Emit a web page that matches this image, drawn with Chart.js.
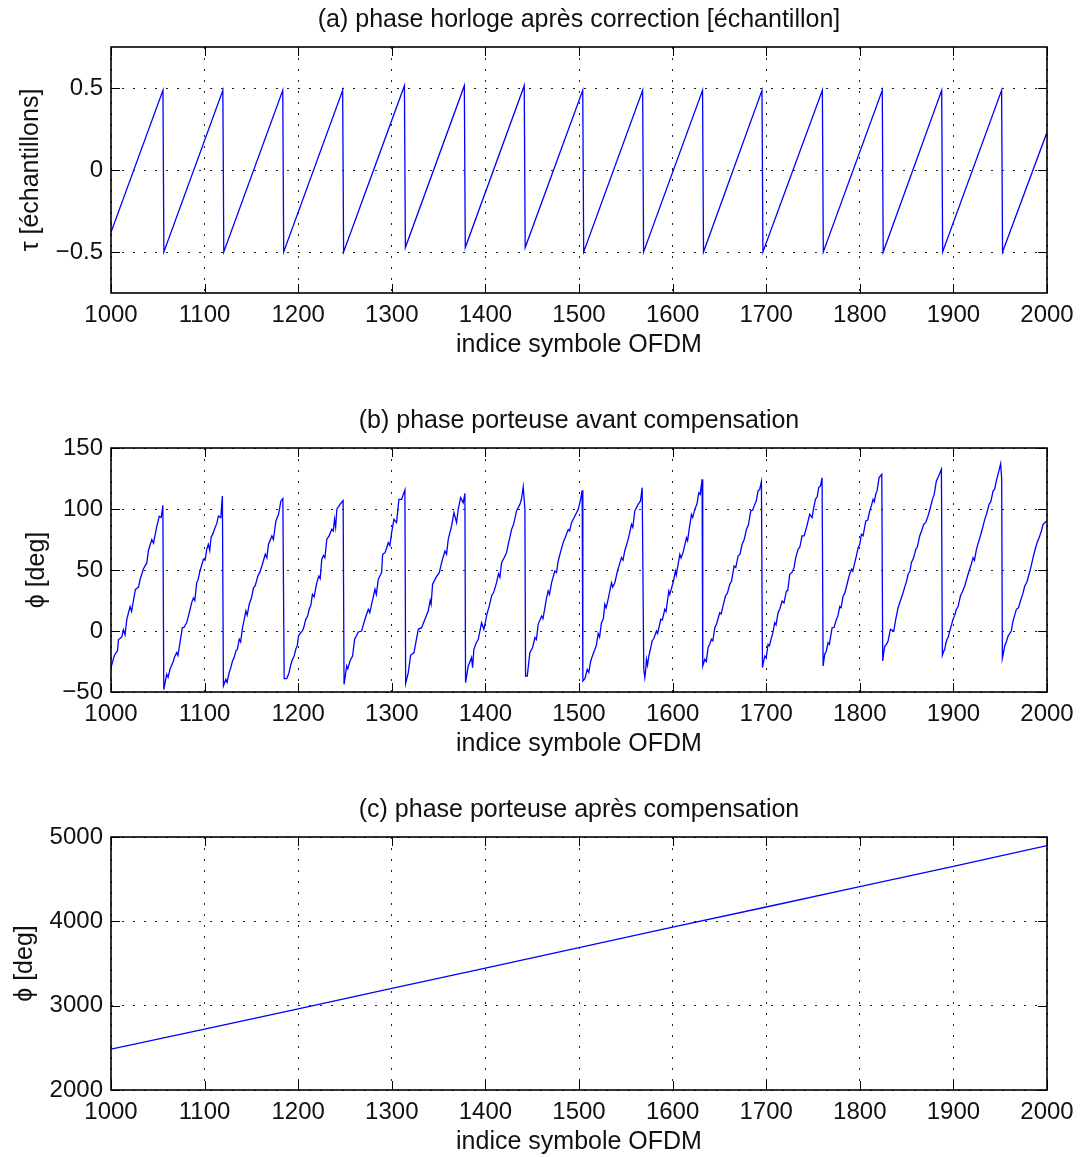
<!DOCTYPE html>
<html lang="fr">
<head>
<meta charset="UTF-8">
<title>Phase horloge et phase porteuse</title>
<script src="https://cdn.jsdelivr.net/npm/chart.js"></script>
<style>
  html, body { margin: 0; padding: 0; background: #fff; overflow: hidden; }
  canvas { position: absolute; left: 0; }
  #chartA { top: 0; }
  #chartB { top: 401px; }
  #chartC { top: 790px; }
</style>
</head>
<body>

<canvas id="chartA" width="1082" height="373"></canvas>
<canvas id="chartB" width="1082" height="371"></canvas>
<canvas id="chartC" width="1082" height="380"></canvas>

<script>
// ---- données ----
const xTicks = [1000, 1100, 1200, 1300, 1400, 1500, 1600, 1700, 1800, 1900, 2000];
const tauTicks = [-0.5, 0, 0.5];
const phiAvantTicks = [-50, 0, 50, 100, 150];
const phiApresTicks = [2000, 3000, 4000, 5000];

// (a) phase horloge [échantillon] : sommets de la dent de scie
const tauPoints = [
  [1000, -0.38], [1055.5, 0.486], [1056.5, -0.5],
  [1119.5, 0.486], [1120.5, -0.5],
  [1183.5, 0.486], [1184.5, -0.5],
  [1247.5, 0.486], [1248.5, -0.5],
  [1313.5, 0.514], [1314.5, -0.473],
  [1377.5, 0.514], [1378.5, -0.473],
  [1441.5, 0.514], [1442.5, -0.473],
  [1504, 0.486], [1505, -0.5],
  [1568, 0.486], [1569, -0.5],
  [1632, 0.486], [1633, -0.5],
  [1695.5, 0.486], [1696.5, -0.5],
  [1760, 0.486], [1761, -0.5],
  [1824, 0.486], [1825, -0.5],
  [1887.5, 0.486], [1888.5, -0.5],
  [1951.5, 0.486], [1952.5, -0.5],
  [2000, 0.23]
];

// (b) phase porteuse avant compensation [deg]
const phiAvantPoints = [
  [1000,-30],[1003.6,-20],[1007,-16],[1008,-7],[1011.5,-5],[1013.3,1],[1015,-3],[1017,10],[1020.4,20],[1022,16],[1026,34],[1029.4,36],[1031,42],[1034.7,51],[1038.3,56],[1040,66],[1043.6,75],[1045.4,72],[1049,86],[1051.5,94],[1053.6,93],[1055.4,103],
  [1056.4,-48],[1059.5,-35.5],[1061,-38],[1063,-31.4],[1066.6,-24.8],[1068,-21],[1070.2,-17.7],[1071.5,-20],[1073.7,-9.5],[1076.2,2.8],[1078,3],[1080.9,6.9],[1083,13],[1086.2,23.3],[1088,27],[1089.5,25],[1091.6,39.7],[1093,42],[1095.1,49.2],[1098.7,58.8],[1100.5,58],[1102.3,67],[1104,71],[1105.5,66],[1106.9,76.6],[1109,80],[1111.2,84.8],[1113,88],[1114.8,94.3],[1117.3,93],[1119,110.7],
  [1120.1,-45],[1122.7,-39.6],[1124,-42],[1126.3,-34],[1128,-30],[1129.8,-24.6],[1131.5,-22],[1133.4,-16.4],[1135,-15],[1137,-6.8],[1138.5,-9],[1140.5,2.8],[1142,8],[1144.1,16.4],[1145.5,13],[1147.7,21.9],[1150,27],[1152.3,35.6],[1154,37],[1156.9,45.1],[1159,48],[1161.2,53.3],[1163,58],[1164.8,62.9],[1166.5,60],[1168.3,71.1],[1171.9,77.9],[1173.5,75],[1176.2,90.2],[1179,95.7],[1181.5,106.6],[1183.6,108.5],
  [1185,-39],[1187.8,-39],[1190.3,-34],[1192,-28],[1193.9,-23.2],[1195.5,-21],[1197.4,-15],[1199,-12],[1200.3,-4.1],[1202,-2],[1204.5,0],[1206,3],[1208.1,9.6],[1210,12],[1211.7,17.8],[1213.5,21],[1215.2,30.1],[1217,28],[1219.9,39.7],[1222,45],[1223.5,43],[1225.2,58.8],[1227,62],[1228.5,60],[1230.6,75.2],[1233,78],[1235.9,83.4],[1237.5,82],[1238.8,91.6],[1240,85],[1241.3,99.8],[1244.8,103.9],[1248,106.9],
  [1249,-43.7],[1251.8,-28.7],[1253,-31],[1255.3,-24.6],[1258.1,-20.5],[1260.3,-6.8],[1264.2,-0.8],[1267.8,0],[1269.5,5],[1271.3,9.6],[1274.9,17.8],[1276.5,15],[1278.4,21.9],[1282,34.2],[1283.5,30],[1285.6,42.4],[1289.1,47.8],[1290.2,62.8],[1292.7,64.2],[1294.5,68],[1296.2,72.4],[1298,70],[1299.8,80.6],[1302.3,91.5],[1305.1,88.8],[1307.6,107.9],[1310.5,107.9],[1312.3,112],[1314,115.6],
  [1314.8,-42.9],[1317.6,-34.1],[1320.1,-19.9],[1323.7,-17.7],[1326,-8],[1328.3,1.4],[1331.8,2.7],[1335.4,9.6],[1338.9,16.4],[1341,25],[1342,22],[1343.6,38.3],[1347.1,43.7],[1350.7,47.8],[1353.2,56],[1356.8,65.6],[1358.5,63],[1360.3,75.1],[1363.9,86.1],[1366.4,97],[1369.2,88.8],[1371,100],[1373.5,109.3],[1376.3,105.2],[1378.1,112.8],
  [1378.8,-42.3],[1381.7,-28.7],[1385.2,-21.8],[1386.3,-30],[1387.7,-15],[1390,-10],[1392.4,-6.8],[1395.9,6.8],[1398.4,1.4],[1402,15],[1404,20],[1406.6,28.7],[1409,32],[1411.9,39.6],[1414,47],[1415.5,44],[1417.3,56],[1420,60],[1422.6,64.2],[1425,73],[1428,83.3],[1430,87],[1433.3,98.4],[1436.9,103.8],[1438.5,108],[1440.4,118.3],[1442.2,100],
  [1442.9,-36.9],[1444.7,-36.9],[1447.5,-17.7],[1450.4,-13.6],[1452.9,-5.4],[1454.5,-7],[1456.4,5.5],[1460,12.3],[1461.5,10],[1463.6,19.1],[1465,26],[1467.1,32.8],[1468.5,30],[1470.7,39.6],[1474.2,49.2],[1476,48],[1477.8,57.4],[1480,64],[1483.1,72.4],[1485,76],[1488.5,83.3],[1490,82],[1492,88.8],[1495.6,94.3],[1499.2,99.7],[1501.7,107.9],[1503.4,115.3],
  [1504.1,-41],[1506.3,-39],[1508.8,-31.4],[1510.5,-34],[1512.3,-25.4],[1514.5,-20],[1517,-15],[1518.5,-12],[1520.5,-2],[1522,-5],[1524,6.8],[1526,10],[1527.6,21.9],[1529,19],[1531.1,26],[1534.7,39.6],[1536,36],[1538.3,39.6],[1541.1,49.2],[1543,54],[1545.4,60.1],[1547,58],[1548.9,65.6],[1552.5,75.1],[1554,80],[1556.1,87.4],[1557.5,85],[1559.6,98.4],[1563.2,103.8],[1565.7,106.6],[1567.5,117.5],
  [1569.2,-31.4],[1570.3,-38.2],[1571,-34],[1572.1,-23.2],[1573.2,-28],[1574.6,-20.5],[1576,-16],[1578.1,-8.2],[1580,-6],[1582.8,0],[1584,-2],[1587.4,9.6],[1589,9],[1591.7,17.8],[1593,16],[1595.9,32.8],[1597,30],[1599.5,36.9],[1601,41],[1603,49.2],[1604,46],[1607.7,62.8],[1609,60],[1611.2,64.2],[1614.8,76.5],[1616,74],[1618,85],[1620.1,95.6],[1621.5,93],[1623.7,99.7],[1626,104],[1628,113.4],[1629.5,112],[1631.5,124.3],
  [1632.2,-28.7],[1634.4,-23.2],[1636,-25],[1637.9,-13.6],[1639.5,-11],[1641.5,-6.8],[1643,-8],[1645.1,2.7],[1647,6],[1650.4,15],[1652,14],[1654,21],[1656.5,28.7],[1658.5,31],[1661.1,38.3],[1663,41],[1665.7,53.3],[1667.5,52],[1670,61.5],[1672,63],[1674.3,71.1],[1676.5,75],[1678.9,83.3],[1681,87],[1683.5,98.4],[1685.5,99],[1687.8,103.8],[1689.5,107],[1691.3,114.8],[1693,116],[1694.9,122.4],
  [1696,-30],[1697,-26],[1698.5,-20.5],[1700,-22],[1702,-10.9],[1703.5,-12],[1705.6,-5.4],[1707,-2],[1709.1,6.8],[1710.5,5],[1712.7,15],[1714.5,18],[1717,24.6],[1719,23],[1721.6,32.8],[1723,33],[1725.2,46.5],[1727.5,48],[1729.8,51.9],[1731.5,60],[1734.1,66.9],[1736,69],[1738.3,77.9],[1740.5,78],[1743,84.7],[1746.5,95.6],[1749,92.9],[1750.5,100],[1752.6,107.9],[1754.5,110],[1756.1,117.5],[1758,119],[1759.7,125.7],
  [1760.8,-28.7],[1762.5,-19.1],[1764,-17],[1766.1,-9.6],[1767.5,-11],[1770.4,2.7],[1772.5,3],[1775,9.6],[1776.5,12],[1778.6,20],[1780,19],[1782.2,28.7],[1784,31],[1786.4,38.3],[1788.5,45],[1791.1,50.6],[1792.5,49],[1794.6,56],[1796.5,62],[1798.2,68.3],[1800,71],[1801.7,79.2],[1803.5,78],[1806.4,90.2],[1808.5,91],[1810.6,98.4],[1812.5,103],[1814.2,107.9],[1815.5,106],[1817,112],[1818.5,115],[1820.6,125.7],[1823.5,128.4],
  [1824.5,-24.6],[1825.5,-18],[1826.7,-12.3],[1828.5,-11],[1830.2,-8.2],[1832.7,1.4],[1836.3,0],[1838.5,10],[1840.9,19.1],[1843,24],[1846.2,31.4],[1848,36],[1850,41],[1851.6,46.5],[1853.5,49],[1855.1,56],[1857.5,60],[1859.8,66.9],[1861.5,69],[1864,77.9],[1866,82],[1868.3,87.4],[1870.5,89],[1872.9,94.3],[1875,100],[1877.6,107.9],[1879.5,112],[1881.8,123],[1884.3,127.1],[1887.2,132.5],
  [1888.2,-19.9],[1889.5,-17],[1890.7,-15],[1892,-10],[1893.2,-6.8],[1894.5,-5],[1896.1,0],[1898,5],[1899.6,9.6],[1901.5,13],[1903.2,17.8],[1905,20],[1907.5,28.7],[1909.5,32],[1912.1,36.9],[1914,42],[1916.7,49.2],[1918.5,53],[1921,60.1],[1922.5,58],[1924.6,66.9],[1926.5,72],[1928.8,77.9],[1931,84],[1933.5,91.5],[1935.5,96],[1938.1,103.8],[1940,106],[1942.4,114.8],[1944,116],[1945.9,123],[1948.1,129.8],[1950.5,137.2],[1951.6,124.3],
  [1952.3,-22.4],[1953.5,-18],[1954.8,-12.3],[1956.5,-9],[1958.4,-4.1],[1961.9,0],[1963.7,8.2],[1965.5,13],[1967.3,17.8],[1969.5,19],[1971.6,24.6],[1974,30],[1976.2,36.9],[1978.5,40],[1980.8,46.5],[1983,53],[1985.1,60.1],[1987,66],[1989.4,72.4],[1992.2,77.9],[1994,82],[1995.8,87.4],[1998,89],[2000,90.5]
];

// (c) phase porteuse après compensation [deg]
const phiApresPoints = [
  [1000, 2485], [1100, 2722], [1200, 2963], [1300, 3204], [1400, 3446], [1500, 3688],
  [1600, 3930], [1700, 4170], [1800, 4412], [1900, 4652], [2000, 4897]
];

const FONT = "'Liberation Sans', Arial, Helvetica, sans-serif";

// boîte et graduations intérieures façon MATLAB
const matlabBox = {
    id: 'matlabBox',
    afterDraw(chart) {
        const { ctx, chartArea: a, scales: { x, y } } = chart;
        const len = 9;
        ctx.save();
        ctx.strokeStyle = '#000';
        ctx.lineWidth = 1;
        ctx.beginPath();
        x.ticks.forEach(t => {
            const px = Math.round(x.getPixelForValue(t.value)) + 0.5;
            ctx.moveTo(px, a.bottom); ctx.lineTo(px, a.bottom - len);
            ctx.moveTo(px, a.top); ctx.lineTo(px, a.top + len);
        });
        y.ticks.forEach(t => {
            const py = Math.round(y.getPixelForValue(t.value)) + 0.5;
            ctx.moveTo(a.left, py); ctx.lineTo(a.left + len, py);
            ctx.moveTo(a.right, py); ctx.lineTo(a.right - len, py);
        });
        ctx.stroke();
        ctx.lineWidth = 1.6;
        ctx.strokeRect(a.left, a.top, a.right - a.left, a.bottom - a.top);
        ctx.restore();
    }
};

function fmt(v) {
    return String(v).replace('-', '\u2212');
}

function makePlot(id, title, yTitle, yTitlePad, points, yMin, yMax, yTicks) {
    const ctx = document.getElementById(id).getContext('2d');
    return new Chart(ctx, {
        type: 'line',
        data: {
            datasets: [{
                data: points.map(p => ({ x: p[0], y: p[1] })),
                borderColor: '#0000ff',
                borderWidth: 1.3,
                pointRadius: 0,
                tension: 0,
                fill: false
            }]
        },
        options: {
            responsive: false,
            animation: false,
            layout: { padding: { left: 0, right: 35, top: 0, bottom: 0 } },
            plugins: {
                legend: { display: false },
                tooltip: { enabled: false },
                title: {
                    display: true,
                    fullSize: false,
                    text: title,
                    color: '#111',
                    font: { family: FONT, size: 25, weight: 'normal', lineHeight: 1.2 },
                    padding: { top: 5, bottom: 12 }
                }
            },
            scales: {
                x: {
                    type: 'linear',
                    min: 1000,
                    max: 2000,
                    afterBuildTicks: s => { s.ticks = xTicks.map(v => ({ value: v })); },
                    afterFit: s => { s.height = 80; },
                    ticks: {
                        color: '#111',
                        padding: 8,
                        maxRotation: 0,
                        font: { family: FONT, size: 24, lineHeight: 1.2 },
                        callback: v => fmt(v)
                    },
                    grid: { color: '#222', lineWidth: 1, drawTicks: false },
                    border: { display: false, dash: [2, 9] },
                    title: {
                        display: true,
                        text: 'indice symbole OFDM',
                        color: '#111',
                        font: { family: FONT, size: 25, lineHeight: 1.2 },
                        padding: { top: 0, bottom: 13 }
                    }
                },
                y: {
                    min: yMin,
                    max: yMax,
                    afterBuildTicks: s => { s.ticks = yTicks.map(v => ({ value: v })); },
                    afterFit: s => { s.width = 111; },
                    ticks: {
                        color: '#111',
                        padding: 8,
                        font: { family: FONT, size: 24, lineHeight: 1.2 },
                        callback: v => fmt(v)
                    },
                    grid: { color: '#222', lineWidth: 1, drawTicks: false },
                    border: { display: false, dash: [2, 9] },
                    title: {
                        display: true,
                        text: yTitle,
                        color: '#111',
                        font: { family: FONT, size: 25, lineHeight: 1.2 },
                        padding: { top: yTitlePad, bottom: 0 }
                    }
                }
            }
        },
        plugins: [matlabBox]
    });
}

makePlot('chartA', '(a) phase horloge après correction [échantillon]', 'τ [échantillons]', 16,
    tauPoints, -0.75, 0.75, tauTicks);
makePlot('chartB', '(b) phase porteuse avant compensation', 'ϕ [deg]', 22,
    phiAvantPoints, -50, 150, phiAvantTicks);
makePlot('chartC', '(c) phase porteuse après compensation', 'ϕ [deg]', 10,
    phiApresPoints, 2000, 5000, phiApresTicks);
</script>

</body>
</html>
